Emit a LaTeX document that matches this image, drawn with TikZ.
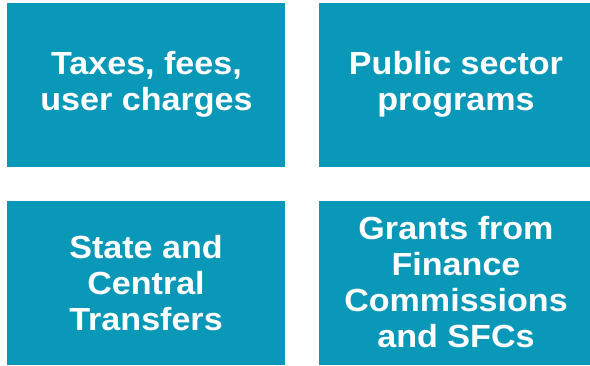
\documentclass[tikz,border=0pt]{standalone}
\usepackage{fontspec}
\setmainfont{Liberation Sans}
\definecolor{tile}{HTML}{0A98B8}
\tikzset{
  tilebox/.style={fill=tile, draw=none},
  tilelabel/.style={text=white, font=\bfseries\fontsize{32}{36}\selectfont,
    align=center, xscale=1.065, transform shape}
}
\begin{document}
\begin{tikzpicture}[x=1pt, y=-1pt]
  \useasboundingbox (0,0) rectangle (590,365);
  % four tiles
  \fill[tilebox] (7,3) rectangle (285,166.5);
  \fill[tilebox] (318.5,3) rectangle (590,166.5);
  \fill[tilebox] (7,201) rectangle (285,365);
  \fill[tilebox] (318.5,201) rectangle (590,365);
  % tile captions
  \node[tilelabel] (taxes) at (146.5,84) {Taxes, fees,\\user charges};
  \node[tilelabel] (programs) at (456,84) {Public sector\\programs};
  \node[tilelabel] (transfers) at (146,283) {State and\\Central\\Transfers};
  \node[tilelabel] (grants) at (456,282) {Grants from\\Finance\\Commissions\\and SFCs};
\end{tikzpicture}
\end{document}
